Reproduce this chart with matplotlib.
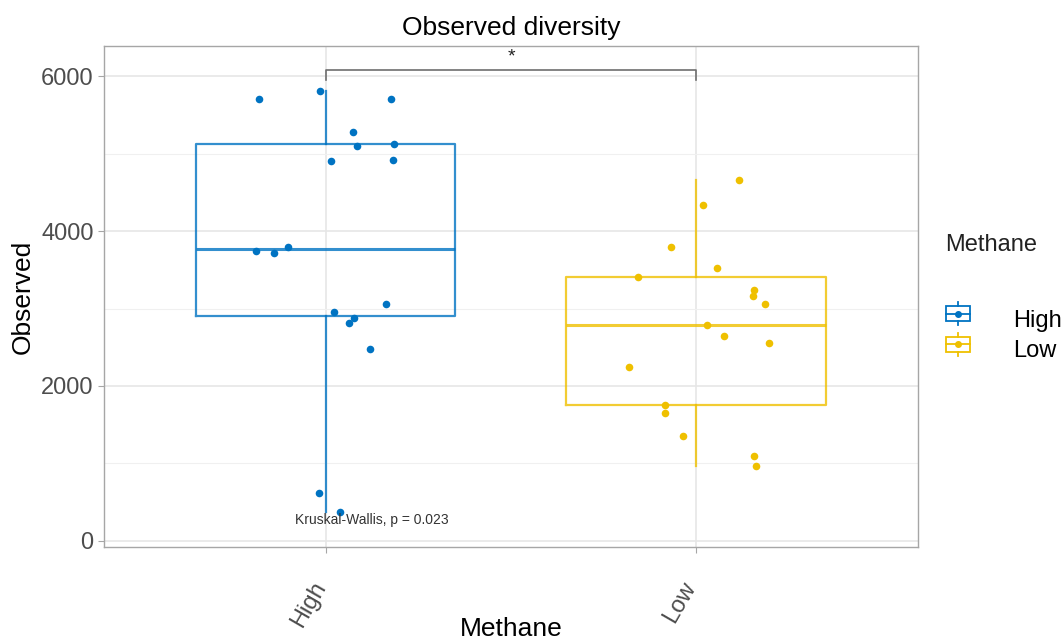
import numpy as np
import matplotlib.pyplot as plt
from matplotlib.legend_handler import HandlerBase
from matplotlib.patches import Rectangle
from matplotlib.lines import Line2D
from matplotlib.transforms import ScaledTranslation

plt.rcParams['font.family'] = ['Liberation Sans', 'DejaVu Sans']

groups = ['High', 'Low']
colors = ['#0073C2', '#EFC000']

# observed richness per sample, with the horizontal jitter used for the dots
high_obs = [5703, 5806, 5712, 5286, 5101, 5127, 4903, 4925, 3746, 3716,
            3798, 3062, 2959, 2881, 2817, 2473, 623, 370]
high_jit = [-0.181, -0.016, 0.176, 0.072, 0.085, 0.184, 0.013, 0.182, -0.189, -0.140,
            -0.102, 0.162, 0.022, 0.077, 0.063, 0.119, -0.018, 0.039]
low_obs = [4662, 4340, 3790, 3531, 3411, 3239, 3161, 3058, 2791, 2641,
           2559, 2249, 1755, 1652, 1359, 1093, 972]
low_jit = [0.116, 0.018, -0.067, 0.057, -0.158, 0.158, 0.154, 0.187, 0.030, 0.077,
           0.198, -0.182, -0.084, -0.084, -0.036, 0.156, 0.163]

obs = [high_obs, low_obs]
jit = [high_jit, low_jit]

fig = plt.figure(figsize=(10.63, 6.42), dpi=100)
ax = fig.add_axes([0.0978, 0.148, 0.7658, 0.780])

ax.set_xlim(0.4, 2.6)
ax.set_ylim(-80, 6390)

# grid like theme_light
ax.set_yticks([0, 2000, 4000, 6000])
ax.set_yticks([1000, 3000, 5000], minor=True)
ax.grid(True, which='major', color='#e6e6e6', lw=1.2, zorder=0)
ax.grid(True, which='minor', axis='y', color='#f0f0f0', lw=0.8, zorder=0)
ax.set_axisbelow(True)
for s in ax.spines.values():
    s.set_color('#a6a6a6')
    s.set_linewidth(1.0)

for i, (vals, c) in enumerate(zip(obs, colors)):
    pos = i + 1
    bp = ax.boxplot(vals, positions=[pos], widths=0.7, whis=1.5, showfliers=False,
                    showcaps=False, patch_artist=False, manage_ticks=False)
    for k in ['boxes', 'whiskers', 'medians']:
        for ln in bp[k]:
            ln.set_color(c)
            ln.set_linewidth(1.6 if k != 'medians' else 2.2)
            ln.set_alpha(0.8)
            ln.set_zorder(2)
    ax.scatter(pos + np.array(jit[i]), vals, s=30, color=c, zorder=3, linewidths=0)

# significance bracket
yb, ytick = 6077, 5948
ax.plot([1, 1, 2, 2], [ytick, yb, yb, ytick], color='#6e6e6e', lw=1.2, zorder=4)
ax.text(1.5, yb + 70, '*', ha='center', va='bottom', fontsize=14, color='#222222')

ax.text(1.124, 270, 'Kruskal-Wallis, p = 0.023', ha='center', va='center',
        fontsize=10, color='#333333')

ax.set_xticks([1, 2])
ax.tick_params(axis='y', labelsize=17, labelcolor='#4d4d4d', color='#a6a6a6', length=4)
ax.tick_params(axis='x', color='#a6a6a6', length=4, pad=22)
ax.tick_params(which='minor', length=0)
ax.set_xticklabels(groups, rotation=60, ha='right', va='center', rotation_mode='anchor',
                   fontsize=17, color='#4d4d4d')
shift = ScaledTranslation(-0.05, 0, fig.dpi_scale_trans)
for lbl in ax.get_xticklabels():
    lbl.set_transform(lbl.get_transform() + shift)

ax.set_title('Observed diversity', fontsize=19, pad=8)
ax.set_xlabel('Methane', fontsize=19)
ax.set_ylabel('Observed', fontsize=19)
ax.xaxis.set_label_coords(0.5, -0.14)
ax.yaxis.set_label_coords(-0.085, 0.5)


class BoxKey(HandlerBase):
    def create_artists(self, legend, orig, xd, yd, w, h, fontsize, trans):
        c = orig.get_color()
        cx, cy = xd + w / 2, yd + h / 2
        bw, bh = w * 0.95, h * 0.7
        arts = [
            Rectangle((cx - bw / 2, cy - bh / 2), bw, bh, fill=False, ec=c, lw=1.3),
            Line2D([cx - bw / 2, cx + bw / 2], [cy, cy], color=c, lw=1.3),
            Line2D([cx, cx], [cy + bh / 2, cy + bh / 2 + 3], color=c, lw=1.3),
            Line2D([cx, cx], [cy - bh / 2, cy - bh / 2 - 3], color=c, lw=1.3),
            Line2D([cx], [cy], marker='o', ms=4, color=c, lw=0),
        ]
        for a in arts:
            a.set_transform(trans)
        return arts


fig.text(945 / 1063, 1 - 245 / 642, 'Methane', ha='left', va='center',
         fontsize=17, color='#222222')
handles = [Line2D([], [], color=c) for c in colors]
leg = fig.legend(handles, groups, handler_map={Line2D: BoxKey()},
                 loc='upper left', bbox_to_anchor=(945 / 1063, 1 - 308 / 642), frameon=False,
                 fontsize=17, handlelength=1.1, handleheight=1.0,
                 handletextpad=1.8, labelspacing=0.3, borderaxespad=0, borderpad=0)

fig.savefig('out.png', dpi=100)
